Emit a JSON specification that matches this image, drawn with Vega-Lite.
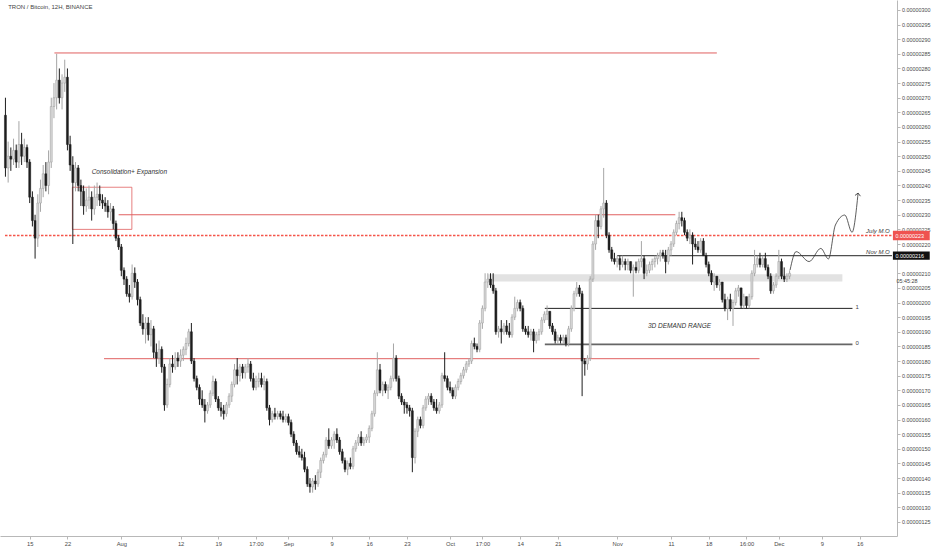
{
  "$schema": "https://vega.github.io/schema/vega-lite/v6.json",
  "width": 897,
  "height": 536,
  "autosize": {"type": "none"},
  "padding": {"left": 0, "top": 0, "right": 35, "bottom": 14},
  "background": "#ffffff",
  "config": {
    "view": {"stroke": null},
    "axis": {
      "grid": false,
      "domainColor": "#b8b8b8",
      "tickColor": "#b8b8b8",
      "tickSize": 3,
      "labelColor": "#4a4a4a",
      "labelFont": "Liberation Sans",
      "labelFontSize": 5.4,
      "labelPadding": 1.5,
      "labelOverlap": false,
      "labelBound": false
    },
    "text": {"font": "Liberation Sans", "fontSize": 6.5, "color": "#333333"}
  },
  "datasets": {
    "candles": [
      {"t": "2019-07-10T12:00", "o": 264, "h": 270, "l": 243, "c": 246},
      {"t": "2019-07-11T00:00", "o": 246, "h": 255, "l": 241, "c": 250},
      {"t": "2019-07-11T12:00", "o": 250, "h": 253, "l": 245, "c": 249},
      {"t": "2019-07-12T00:00", "o": 249, "h": 256, "l": 247, "c": 252},
      {"t": "2019-07-12T12:00", "o": 252, "h": 254, "l": 246, "c": 248},
      {"t": "2019-07-13T00:00", "o": 248, "h": 262, "l": 246, "c": 254},
      {"t": "2019-07-13T12:00", "o": 254, "h": 258, "l": 247, "c": 250},
      {"t": "2019-07-14T00:00", "o": 250, "h": 256, "l": 248, "c": 253},
      {"t": "2019-07-14T12:00", "o": 253, "h": 254, "l": 246, "c": 248},
      {"t": "2019-07-15T00:00", "o": 248, "h": 249, "l": 234, "c": 236},
      {"t": "2019-07-15T12:00", "o": 236, "h": 238, "l": 226, "c": 228},
      {"t": "2019-07-16T00:00", "o": 228, "h": 230, "l": 215, "c": 222},
      {"t": "2019-07-16T12:00", "o": 222, "h": 237, "l": 219, "c": 234},
      {"t": "2019-07-17T00:00", "o": 234, "h": 242, "l": 231, "c": 239},
      {"t": "2019-07-17T12:00", "o": 239, "h": 247, "l": 236, "c": 244},
      {"t": "2019-07-18T00:00", "o": 244, "h": 248, "l": 238, "c": 240},
      {"t": "2019-07-18T12:00", "o": 240, "h": 252, "l": 237, "c": 248},
      {"t": "2019-07-19T00:00", "o": 248, "h": 270, "l": 246, "c": 267},
      {"t": "2019-07-19T12:00", "o": 267, "h": 275, "l": 263, "c": 270},
      {"t": "2019-07-20T00:00", "o": 270, "h": 285, "l": 266, "c": 276},
      {"t": "2019-07-20T12:00", "o": 276, "h": 280, "l": 268, "c": 270},
      {"t": "2019-07-21T00:00", "o": 270, "h": 278, "l": 266, "c": 275},
      {"t": "2019-07-21T12:00", "o": 275, "h": 283, "l": 272, "c": 277},
      {"t": "2019-07-22T00:00", "o": 277, "h": 280, "l": 252, "c": 254},
      {"t": "2019-07-22T12:00", "o": 254, "h": 257, "l": 245, "c": 247},
      {"t": "2019-07-23T00:00", "o": 247, "h": 250, "l": 220, "c": 241},
      {"t": "2019-07-23T12:00", "o": 241, "h": 248, "l": 238, "c": 246},
      {"t": "2019-07-24T00:00", "o": 246, "h": 247, "l": 238, "c": 240},
      {"t": "2019-07-24T12:00", "o": 240, "h": 242, "l": 233, "c": 238},
      {"t": "2019-07-25T00:00", "o": 238, "h": 240, "l": 230, "c": 233},
      {"t": "2019-07-25T12:00", "o": 233, "h": 239, "l": 231, "c": 235},
      {"t": "2019-07-26T00:00", "o": 235, "h": 240, "l": 232, "c": 236},
      {"t": "2019-07-26T12:00", "o": 236, "h": 238, "l": 228, "c": 232},
      {"t": "2019-07-27T00:00", "o": 232, "h": 240, "l": 230, "c": 236},
      {"t": "2019-07-27T12:00", "o": 236, "h": 241, "l": 233, "c": 237},
      {"t": "2019-07-28T00:00", "o": 237, "h": 240, "l": 233, "c": 235},
      {"t": "2019-07-28T12:00", "o": 235, "h": 237, "l": 232, "c": 234},
      {"t": "2019-07-29T00:00", "o": 234, "h": 236, "l": 231, "c": 233},
      {"t": "2019-07-29T12:00", "o": 233, "h": 235, "l": 229, "c": 231},
      {"t": "2019-07-30T00:00", "o": 231, "h": 234, "l": 228, "c": 232},
      {"t": "2019-07-30T12:00", "o": 232, "h": 233, "l": 225, "c": 227},
      {"t": "2019-07-31T00:00", "o": 227, "h": 228, "l": 221, "c": 222},
      {"t": "2019-07-31T12:00", "o": 222, "h": 223, "l": 218, "c": 219},
      {"t": "2019-08-01T00:00", "o": 219, "h": 220, "l": 209, "c": 211},
      {"t": "2019-08-01T12:00", "o": 211, "h": 212, "l": 206, "c": 208},
      {"t": "2019-08-02T00:00", "o": 208, "h": 209, "l": 202, "c": 203},
      {"t": "2019-08-02T12:00", "o": 203, "h": 206, "l": 200, "c": 202},
      {"t": "2019-08-03T00:00", "o": 202, "h": 213, "l": 201, "c": 210},
      {"t": "2019-08-03T12:00", "o": 210, "h": 212, "l": 205, "c": 207},
      {"t": "2019-08-04T00:00", "o": 207, "h": 208, "l": 199, "c": 201},
      {"t": "2019-08-04T12:00", "o": 201, "h": 202, "l": 192, "c": 193},
      {"t": "2019-08-05T00:00", "o": 193, "h": 196, "l": 189, "c": 191},
      {"t": "2019-08-05T12:00", "o": 191, "h": 195, "l": 186, "c": 193},
      {"t": "2019-08-06T00:00", "o": 193, "h": 195, "l": 187, "c": 189},
      {"t": "2019-08-06T12:00", "o": 189, "h": 194, "l": 185, "c": 191},
      {"t": "2019-08-07T00:00", "o": 191, "h": 192, "l": 181, "c": 183},
      {"t": "2019-08-07T12:00", "o": 183, "h": 186, "l": 178, "c": 181},
      {"t": "2019-08-08T00:00", "o": 181, "h": 187, "l": 179, "c": 184},
      {"t": "2019-08-08T12:00", "o": 184, "h": 185, "l": 176, "c": 178},
      {"t": "2019-08-09T00:00", "o": 178, "h": 179, "l": 163, "c": 165},
      {"t": "2019-08-09T12:00", "o": 165, "h": 174, "l": 164, "c": 172},
      {"t": "2019-08-10T00:00", "o": 172, "h": 181, "l": 171, "c": 179},
      {"t": "2019-08-10T12:00", "o": 179, "h": 182, "l": 176, "c": 178},
      {"t": "2019-08-11T00:00", "o": 178, "h": 183, "l": 177, "c": 181},
      {"t": "2019-08-11T12:00", "o": 181, "h": 183, "l": 178, "c": 180},
      {"t": "2019-08-12T00:00", "o": 180, "h": 184, "l": 178, "c": 182},
      {"t": "2019-08-12T12:00", "o": 182, "h": 185, "l": 180, "c": 184},
      {"t": "2019-08-13T00:00", "o": 184, "h": 188, "l": 182, "c": 186},
      {"t": "2019-08-13T12:00", "o": 186, "h": 191, "l": 185, "c": 190},
      {"t": "2019-08-14T00:00", "o": 190, "h": 193, "l": 179, "c": 180},
      {"t": "2019-08-14T12:00", "o": 180, "h": 181, "l": 173, "c": 174},
      {"t": "2019-08-15T00:00", "o": 174, "h": 175, "l": 170, "c": 171},
      {"t": "2019-08-15T12:00", "o": 171, "h": 172, "l": 165, "c": 167},
      {"t": "2019-08-16T00:00", "o": 167, "h": 170, "l": 164, "c": 165},
      {"t": "2019-08-16T12:00", "o": 165, "h": 167, "l": 159, "c": 163},
      {"t": "2019-08-17T00:00", "o": 163, "h": 166, "l": 162, "c": 165},
      {"t": "2019-08-17T12:00", "o": 165, "h": 170, "l": 164, "c": 169},
      {"t": "2019-08-18T00:00", "o": 169, "h": 175, "l": 168, "c": 173},
      {"t": "2019-08-18T12:00", "o": 173, "h": 174, "l": 166, "c": 167},
      {"t": "2019-08-19T00:00", "o": 167, "h": 168, "l": 163, "c": 164},
      {"t": "2019-08-19T12:00", "o": 164, "h": 166, "l": 161, "c": 163},
      {"t": "2019-08-20T00:00", "o": 163, "h": 165, "l": 160, "c": 162},
      {"t": "2019-08-20T12:00", "o": 162, "h": 166, "l": 161, "c": 165},
      {"t": "2019-08-21T00:00", "o": 165, "h": 169, "l": 164, "c": 168},
      {"t": "2019-08-21T12:00", "o": 168, "h": 173, "l": 166, "c": 172},
      {"t": "2019-08-22T00:00", "o": 172, "h": 179, "l": 171, "c": 177},
      {"t": "2019-08-22T12:00", "o": 177, "h": 181, "l": 172, "c": 175},
      {"t": "2019-08-23T00:00", "o": 175, "h": 179, "l": 173, "c": 178},
      {"t": "2019-08-23T12:00", "o": 178, "h": 179, "l": 174, "c": 176},
      {"t": "2019-08-24T00:00", "o": 176, "h": 179, "l": 174, "c": 178},
      {"t": "2019-08-24T12:00", "o": 178, "h": 181, "l": 176, "c": 179},
      {"t": "2019-08-25T00:00", "o": 179, "h": 180, "l": 173, "c": 174},
      {"t": "2019-08-25T12:00", "o": 174, "h": 176, "l": 170, "c": 171},
      {"t": "2019-08-26T00:00", "o": 171, "h": 175, "l": 170, "c": 173},
      {"t": "2019-08-26T12:00", "o": 173, "h": 176, "l": 171, "c": 174},
      {"t": "2019-08-27T00:00", "o": 174, "h": 176, "l": 171, "c": 172},
      {"t": "2019-08-27T12:00", "o": 172, "h": 175, "l": 170, "c": 173},
      {"t": "2019-08-28T00:00", "o": 173, "h": 174, "l": 163, "c": 164},
      {"t": "2019-08-28T12:00", "o": 164, "h": 165, "l": 158, "c": 160},
      {"t": "2019-08-29T00:00", "o": 160, "h": 163, "l": 159, "c": 162},
      {"t": "2019-08-29T12:00", "o": 162, "h": 164, "l": 160, "c": 161},
      {"t": "2019-08-30T00:00", "o": 161, "h": 163, "l": 160, "c": 162},
      {"t": "2019-08-30T12:00", "o": 162, "h": 163, "l": 160, "c": 161},
      {"t": "2019-08-31T00:00", "o": 161, "h": 163, "l": 159, "c": 160},
      {"t": "2019-08-31T12:00", "o": 160, "h": 162, "l": 159, "c": 161},
      {"t": "2019-09-01T00:00", "o": 161, "h": 162, "l": 158, "c": 159},
      {"t": "2019-09-01T12:00", "o": 159, "h": 160, "l": 154, "c": 155},
      {"t": "2019-09-02T00:00", "o": 155, "h": 156, "l": 151, "c": 152},
      {"t": "2019-09-02T12:00", "o": 152, "h": 153, "l": 148, "c": 149},
      {"t": "2019-09-03T00:00", "o": 149, "h": 151, "l": 147, "c": 148},
      {"t": "2019-09-03T12:00", "o": 148, "h": 150, "l": 146, "c": 147},
      {"t": "2019-09-04T00:00", "o": 147, "h": 149, "l": 142, "c": 143},
      {"t": "2019-09-04T12:00", "o": 143, "h": 144, "l": 137, "c": 138},
      {"t": "2019-09-05T00:00", "o": 138, "h": 140, "l": 135, "c": 137},
      {"t": "2019-09-05T12:00", "o": 137, "h": 140, "l": 135, "c": 139},
      {"t": "2019-09-06T00:00", "o": 139, "h": 141, "l": 136, "c": 138},
      {"t": "2019-09-06T12:00", "o": 138, "h": 143, "l": 137, "c": 142},
      {"t": "2019-09-07T00:00", "o": 142, "h": 147, "l": 140, "c": 146},
      {"t": "2019-09-07T12:00", "o": 146, "h": 149, "l": 145, "c": 148},
      {"t": "2019-09-08T00:00", "o": 148, "h": 154, "l": 147, "c": 153},
      {"t": "2019-09-08T12:00", "o": 153, "h": 157, "l": 150, "c": 151},
      {"t": "2019-09-09T00:00", "o": 151, "h": 154, "l": 150, "c": 153},
      {"t": "2019-09-09T12:00", "o": 153, "h": 156, "l": 150, "c": 155},
      {"t": "2019-09-10T00:00", "o": 155, "h": 157, "l": 152, "c": 153},
      {"t": "2019-09-10T12:00", "o": 153, "h": 154, "l": 148, "c": 149},
      {"t": "2019-09-11T00:00", "o": 149, "h": 150, "l": 145, "c": 146},
      {"t": "2019-09-11T12:00", "o": 146, "h": 147, "l": 142, "c": 143},
      {"t": "2019-09-12T00:00", "o": 143, "h": 146, "l": 141, "c": 145},
      {"t": "2019-09-12T12:00", "o": 145, "h": 147, "l": 143, "c": 144},
      {"t": "2019-09-13T00:00", "o": 144, "h": 151, "l": 143, "c": 150},
      {"t": "2019-09-13T12:00", "o": 150, "h": 153, "l": 149, "c": 152},
      {"t": "2019-09-14T00:00", "o": 152, "h": 155, "l": 151, "c": 154},
      {"t": "2019-09-14T12:00", "o": 154, "h": 156, "l": 151, "c": 152},
      {"t": "2019-09-15T00:00", "o": 152, "h": 154, "l": 151, "c": 153},
      {"t": "2019-09-15T12:00", "o": 153, "h": 155, "l": 152, "c": 154},
      {"t": "2019-09-16T00:00", "o": 154, "h": 158, "l": 152, "c": 157},
      {"t": "2019-09-16T12:00", "o": 157, "h": 163, "l": 156, "c": 162},
      {"t": "2019-09-17T00:00", "o": 162, "h": 170, "l": 161, "c": 169},
      {"t": "2019-09-17T12:00", "o": 169, "h": 183, "l": 168, "c": 177},
      {"t": "2019-09-18T00:00", "o": 177, "h": 179, "l": 169, "c": 170},
      {"t": "2019-09-18T12:00", "o": 170, "h": 173, "l": 168, "c": 172},
      {"t": "2019-09-19T00:00", "o": 172, "h": 173, "l": 169, "c": 170},
      {"t": "2019-09-19T12:00", "o": 170, "h": 172, "l": 167, "c": 171},
      {"t": "2019-09-20T00:00", "o": 171, "h": 175, "l": 170, "c": 174},
      {"t": "2019-09-20T12:00", "o": 174, "h": 186, "l": 173, "c": 181},
      {"t": "2019-09-21T00:00", "o": 181, "h": 182, "l": 173, "c": 174},
      {"t": "2019-09-21T12:00", "o": 174, "h": 175, "l": 167, "c": 168},
      {"t": "2019-09-22T00:00", "o": 168, "h": 169, "l": 165, "c": 166},
      {"t": "2019-09-22T12:00", "o": 166, "h": 167, "l": 162, "c": 165},
      {"t": "2019-09-23T00:00", "o": 165, "h": 166, "l": 162, "c": 164},
      {"t": "2019-09-23T12:00", "o": 164, "h": 165, "l": 161, "c": 163},
      {"t": "2019-09-24T00:00", "o": 163, "h": 164, "l": 142, "c": 147},
      {"t": "2019-09-24T12:00", "o": 147, "h": 157, "l": 145, "c": 156},
      {"t": "2019-09-25T00:00", "o": 156, "h": 161, "l": 154, "c": 160},
      {"t": "2019-09-25T12:00", "o": 160, "h": 161, "l": 157, "c": 158},
      {"t": "2019-09-26T00:00", "o": 158, "h": 165, "l": 157, "c": 164},
      {"t": "2019-09-26T12:00", "o": 164, "h": 168, "l": 163, "c": 167},
      {"t": "2019-09-27T00:00", "o": 167, "h": 169, "l": 165, "c": 168},
      {"t": "2019-09-27T12:00", "o": 168, "h": 169, "l": 165, "c": 166},
      {"t": "2019-09-28T00:00", "o": 166, "h": 167, "l": 163, "c": 164},
      {"t": "2019-09-28T12:00", "o": 164, "h": 167, "l": 162, "c": 163},
      {"t": "2019-09-29T00:00", "o": 163, "h": 166, "l": 162, "c": 165},
      {"t": "2019-09-29T12:00", "o": 165, "h": 176, "l": 164, "c": 175},
      {"t": "2019-09-30T00:00", "o": 175, "h": 183, "l": 173, "c": 174},
      {"t": "2019-09-30T12:00", "o": 174, "h": 175, "l": 170, "c": 171},
      {"t": "2019-10-01T00:00", "o": 171, "h": 173, "l": 169, "c": 170},
      {"t": "2019-10-01T12:00", "o": 170, "h": 171, "l": 167, "c": 168},
      {"t": "2019-10-02T00:00", "o": 168, "h": 172, "l": 167, "c": 171},
      {"t": "2019-10-02T12:00", "o": 171, "h": 174, "l": 170, "c": 173},
      {"t": "2019-10-03T00:00", "o": 173, "h": 176, "l": 172, "c": 175},
      {"t": "2019-10-03T12:00", "o": 175, "h": 178, "l": 174, "c": 177},
      {"t": "2019-10-04T00:00", "o": 177, "h": 180, "l": 176, "c": 179},
      {"t": "2019-10-04T12:00", "o": 179, "h": 181, "l": 178, "c": 180},
      {"t": "2019-10-05T00:00", "o": 180, "h": 187, "l": 179, "c": 186},
      {"t": "2019-10-05T12:00", "o": 186, "h": 188, "l": 184, "c": 185},
      {"t": "2019-10-06T00:00", "o": 185, "h": 186, "l": 183, "c": 184},
      {"t": "2019-10-06T12:00", "o": 184, "h": 194, "l": 183, "c": 193},
      {"t": "2019-10-07T00:00", "o": 193, "h": 199, "l": 191, "c": 198},
      {"t": "2019-10-07T12:00", "o": 198, "h": 210, "l": 197, "c": 207},
      {"t": "2019-10-08T00:00", "o": 207, "h": 210, "l": 205, "c": 208},
      {"t": "2019-10-08T12:00", "o": 208, "h": 210, "l": 205, "c": 206},
      {"t": "2019-10-09T00:00", "o": 206, "h": 210, "l": 203, "c": 204},
      {"t": "2019-10-09T12:00", "o": 204, "h": 205, "l": 189, "c": 190},
      {"t": "2019-10-10T00:00", "o": 190, "h": 192, "l": 188, "c": 191},
      {"t": "2019-10-10T12:00", "o": 191, "h": 194, "l": 186, "c": 190},
      {"t": "2019-10-11T00:00", "o": 190, "h": 193, "l": 189, "c": 192},
      {"t": "2019-10-11T12:00", "o": 192, "h": 194, "l": 189, "c": 190},
      {"t": "2019-10-12T00:00", "o": 190, "h": 193, "l": 188, "c": 189},
      {"t": "2019-10-12T12:00", "o": 189, "h": 196, "l": 188, "c": 195},
      {"t": "2019-10-13T00:00", "o": 195, "h": 202, "l": 194, "c": 198},
      {"t": "2019-10-13T12:00", "o": 198, "h": 201, "l": 197, "c": 200},
      {"t": "2019-10-14T00:00", "o": 200, "h": 201, "l": 197, "c": 198},
      {"t": "2019-10-14T12:00", "o": 198, "h": 199, "l": 190, "c": 191},
      {"t": "2019-10-15T00:00", "o": 191, "h": 192, "l": 189, "c": 190},
      {"t": "2019-10-15T12:00", "o": 190, "h": 192, "l": 188, "c": 189},
      {"t": "2019-10-16T00:00", "o": 189, "h": 191, "l": 187, "c": 190},
      {"t": "2019-10-16T12:00", "o": 190, "h": 191, "l": 183, "c": 187},
      {"t": "2019-10-17T00:00", "o": 187, "h": 190, "l": 186, "c": 189},
      {"t": "2019-10-17T12:00", "o": 189, "h": 191, "l": 187, "c": 190},
      {"t": "2019-10-18T00:00", "o": 190, "h": 195, "l": 189, "c": 194},
      {"t": "2019-10-18T12:00", "o": 194, "h": 197, "l": 193, "c": 196},
      {"t": "2019-10-19T00:00", "o": 196, "h": 199, "l": 194, "c": 197},
      {"t": "2019-10-19T12:00", "o": 197, "h": 197, "l": 191, "c": 192},
      {"t": "2019-10-20T00:00", "o": 192, "h": 193, "l": 189, "c": 190},
      {"t": "2019-10-20T12:00", "o": 190, "h": 191, "l": 186, "c": 187},
      {"t": "2019-10-21T00:00", "o": 187, "h": 189, "l": 186, "c": 188},
      {"t": "2019-10-21T12:00", "o": 188, "h": 189, "l": 186, "c": 187},
      {"t": "2019-10-22T00:00", "o": 187, "h": 189, "l": 186, "c": 188},
      {"t": "2019-10-22T12:00", "o": 188, "h": 189, "l": 185, "c": 186},
      {"t": "2019-10-23T00:00", "o": 186, "h": 192, "l": 185, "c": 191},
      {"t": "2019-10-23T12:00", "o": 191, "h": 199, "l": 190, "c": 198},
      {"t": "2019-10-24T00:00", "o": 198, "h": 204, "l": 197, "c": 203},
      {"t": "2019-10-24T12:00", "o": 203, "h": 207, "l": 202, "c": 205},
      {"t": "2019-10-25T00:00", "o": 205, "h": 206, "l": 202, "c": 203},
      {"t": "2019-10-25T12:00", "o": 203, "h": 204, "l": 168, "c": 180},
      {"t": "2019-10-26T00:00", "o": 180, "h": 181, "l": 175, "c": 179},
      {"t": "2019-10-26T12:00", "o": 179, "h": 182, "l": 177, "c": 181},
      {"t": "2019-10-27T00:00", "o": 181, "h": 209, "l": 180, "c": 208},
      {"t": "2019-10-27T12:00", "o": 208, "h": 221, "l": 207, "c": 220},
      {"t": "2019-10-28T00:00", "o": 220, "h": 230, "l": 218, "c": 228},
      {"t": "2019-10-28T12:00", "o": 228, "h": 230, "l": 222, "c": 226},
      {"t": "2019-10-29T00:00", "o": 226, "h": 233, "l": 225, "c": 232},
      {"t": "2019-10-29T12:00", "o": 232, "h": 246, "l": 229, "c": 234},
      {"t": "2019-10-30T00:00", "o": 234, "h": 235, "l": 222, "c": 223},
      {"t": "2019-10-30T12:00", "o": 223, "h": 224, "l": 217, "c": 218},
      {"t": "2019-10-31T00:00", "o": 218, "h": 219, "l": 214, "c": 215},
      {"t": "2019-10-31T12:00", "o": 215, "h": 217, "l": 213, "c": 214},
      {"t": "2019-11-01T00:00", "o": 214, "h": 216, "l": 212, "c": 215},
      {"t": "2019-11-01T12:00", "o": 215, "h": 216, "l": 211, "c": 213},
      {"t": "2019-11-02T00:00", "o": 213, "h": 216, "l": 212, "c": 214},
      {"t": "2019-11-02T12:00", "o": 214, "h": 215, "l": 211, "c": 213},
      {"t": "2019-11-03T00:00", "o": 213, "h": 215, "l": 211, "c": 214},
      {"t": "2019-11-03T12:00", "o": 214, "h": 214, "l": 210, "c": 211},
      {"t": "2019-11-04T00:00", "o": 211, "h": 213, "l": 202, "c": 212},
      {"t": "2019-11-04T12:00", "o": 212, "h": 214, "l": 210, "c": 211},
      {"t": "2019-11-05T00:00", "o": 211, "h": 215, "l": 210, "c": 214},
      {"t": "2019-11-05T12:00", "o": 214, "h": 221, "l": 212, "c": 215},
      {"t": "2019-11-06T00:00", "o": 215, "h": 216, "l": 208, "c": 210},
      {"t": "2019-11-06T12:00", "o": 210, "h": 213, "l": 209, "c": 211},
      {"t": "2019-11-07T00:00", "o": 211, "h": 214, "l": 210, "c": 213},
      {"t": "2019-11-07T12:00", "o": 213, "h": 215, "l": 211, "c": 214},
      {"t": "2019-11-08T00:00", "o": 214, "h": 216, "l": 212, "c": 215},
      {"t": "2019-11-08T12:00", "o": 215, "h": 217, "l": 213, "c": 216},
      {"t": "2019-11-09T00:00", "o": 216, "h": 218, "l": 214, "c": 217},
      {"t": "2019-11-09T12:00", "o": 217, "h": 218, "l": 215, "c": 216},
      {"t": "2019-11-10T00:00", "o": 216, "h": 218, "l": 210, "c": 214},
      {"t": "2019-11-10T12:00", "o": 214, "h": 219, "l": 213, "c": 218},
      {"t": "2019-11-11T00:00", "o": 218, "h": 221, "l": 216, "c": 220},
      {"t": "2019-11-11T12:00", "o": 220, "h": 225, "l": 219, "c": 224},
      {"t": "2019-11-12T00:00", "o": 224, "h": 228, "l": 223, "c": 227},
      {"t": "2019-11-12T12:00", "o": 227, "h": 231, "l": 225, "c": 229},
      {"t": "2019-11-13T00:00", "o": 229, "h": 231, "l": 226, "c": 228},
      {"t": "2019-11-13T12:00", "o": 228, "h": 229, "l": 223, "c": 224},
      {"t": "2019-11-14T00:00", "o": 224, "h": 225, "l": 221, "c": 222},
      {"t": "2019-11-14T12:00", "o": 222, "h": 225, "l": 220, "c": 223},
      {"t": "2019-11-15T00:00", "o": 223, "h": 224, "l": 213, "c": 220},
      {"t": "2019-11-15T12:00", "o": 220, "h": 222, "l": 218, "c": 219},
      {"t": "2019-11-16T00:00", "o": 219, "h": 221, "l": 217, "c": 218},
      {"t": "2019-11-16T12:00", "o": 218, "h": 222, "l": 217, "c": 221},
      {"t": "2019-11-17T00:00", "o": 221, "h": 222, "l": 216, "c": 216},
      {"t": "2019-11-17T12:00", "o": 216, "h": 217, "l": 212, "c": 213},
      {"t": "2019-11-18T00:00", "o": 213, "h": 214, "l": 209, "c": 210},
      {"t": "2019-11-18T12:00", "o": 210, "h": 211, "l": 206, "c": 207},
      {"t": "2019-11-19T00:00", "o": 207, "h": 210, "l": 204, "c": 209},
      {"t": "2019-11-19T12:00", "o": 209, "h": 209, "l": 205, "c": 206},
      {"t": "2019-11-20T00:00", "o": 206, "h": 208, "l": 204, "c": 207},
      {"t": "2019-11-20T12:00", "o": 207, "h": 207, "l": 200, "c": 201},
      {"t": "2019-11-21T00:00", "o": 201, "h": 203, "l": 197, "c": 198},
      {"t": "2019-11-21T12:00", "o": 198, "h": 202, "l": 194, "c": 201},
      {"t": "2019-11-22T00:00", "o": 201, "h": 203, "l": 197, "c": 198},
      {"t": "2019-11-22T12:00", "o": 198, "h": 201, "l": 192, "c": 200},
      {"t": "2019-11-23T00:00", "o": 200, "h": 205, "l": 199, "c": 204},
      {"t": "2019-11-23T12:00", "o": 204, "h": 206, "l": 202, "c": 205},
      {"t": "2019-11-24T00:00", "o": 205, "h": 205, "l": 198, "c": 199},
      {"t": "2019-11-24T12:00", "o": 199, "h": 203, "l": 198, "c": 202},
      {"t": "2019-11-25T00:00", "o": 202, "h": 202, "l": 198, "c": 199},
      {"t": "2019-11-25T12:00", "o": 199, "h": 203, "l": 198, "c": 202},
      {"t": "2019-11-26T00:00", "o": 202, "h": 211, "l": 201, "c": 210},
      {"t": "2019-11-26T12:00", "o": 210, "h": 218, "l": 209, "c": 213},
      {"t": "2019-11-27T00:00", "o": 213, "h": 216, "l": 212, "c": 215},
      {"t": "2019-11-27T12:00", "o": 215, "h": 217, "l": 212, "c": 213},
      {"t": "2019-11-28T00:00", "o": 213, "h": 216, "l": 212, "c": 215},
      {"t": "2019-11-28T12:00", "o": 215, "h": 217, "l": 211, "c": 212},
      {"t": "2019-11-29T00:00", "o": 212, "h": 213, "l": 208, "c": 209},
      {"t": "2019-11-29T12:00", "o": 209, "h": 210, "l": 203, "c": 204},
      {"t": "2019-11-30T00:00", "o": 204, "h": 207, "l": 203, "c": 206},
      {"t": "2019-11-30T12:00", "o": 206, "h": 210, "l": 205, "c": 209},
      {"t": "2019-12-01T00:00", "o": 209, "h": 218, "l": 208, "c": 214},
      {"t": "2019-12-01T12:00", "o": 214, "h": 215, "l": 208, "c": 209},
      {"t": "2019-12-02T00:00", "o": 209, "h": 212, "l": 207, "c": 208},
      {"t": "2019-12-02T12:00", "o": 208, "h": 210, "l": 207, "c": 209},
      {"t": "2019-12-03T00:00", "o": 209, "h": 211, "l": 208, "c": 210}
    ],
    "band": [{"t": "2019-10-08T00:00", "t2": "2019-12-12T19:00", "p": 207.2, "p2": 209.7}],
    "redLines": [
      {"t": "2019-07-19T14:00", "t2": "2019-11-19T12:00", "p": 285.3},
      {"t": "2019-07-31T12:00", "t2": "2019-11-11T19:00", "p": 230.0},
      {"t": "2019-07-28T19:00", "t2": "2019-11-27T10:00", "p": 180.8}
    ],
    "levels": [
      {"t": "2019-11-01T00:00", "t2": "2019-12-22T00:00", "p": 216.0},
      {"t": "2019-10-18T14:00", "t2": "2019-12-14T16:00", "p": 198.0}
    ],
    "zeroLevel": [{"t": "2019-10-18T14:00", "t2": "2019-12-14T16:00", "p": 185.7}],
    "julyOpen": [{"t": "2019-07-10T10:00", "t2": "2019-12-22T00:00", "p": 222.9}],
    "box": [{"t": "2019-07-22T22:00", "t2": "2019-08-02T23:00", "p": 225.0, "p2": 239.4}],
    "path": [
      {"t": "2019-12-03T02:00", "p": 211.1},
      {"t": "2019-12-04T05:00", "p": 217.4},
      {"t": "2019-12-06T15:00", "p": 214.0},
      {"t": "2019-12-08T19:00", "p": 218.5},
      {"t": "2019-12-10T05:00", "p": 214.9},
      {"t": "2019-12-11T12:00", "p": 226.5},
      {"t": "2019-12-13T06:00", "p": 229.9},
      {"t": "2019-12-14T14:00", "p": 224.0},
      {"t": "2019-12-15T17:00", "p": 237.4}
    ],
    "tip": [{"t": "2019-12-15T17:00", "p": 237.4}],
    "italicNotes": [
      {"t": "2019-07-26T12:00", "p": 244.7, "label": "Consolidation+ Expansion"},
      {"t": "2019-11-06T17:00", "p": 192.1, "label": "3D DEMAND RANGE"}
    ],
    "rightNotes": [
      {"t": "2019-12-21T14:00", "p": 224.3, "label": "July M.O"},
      {"t": "2019-12-21T14:00", "p": 217.4, "label": "Nov M.O"}
    ],
    "plainNotes": [
      {"t": "2019-07-11T00:00", "p": 301.0, "label": "TRON / Bitcoin, 12H, BINANCE"},
      {"t": "2019-12-15T05:00", "p": 198.6, "label": "1"},
      {"t": "2019-12-15T05:00", "p": 186.3, "label": "0"}
    ],
    "clock": [{"t": "2019-12-22T20:00", "p": 207.4, "label": "05:45:28"}],
    "tags": [
      {"t": "2019-12-22T04:00", "t2": "2019-12-29T00:00", "p": 221.3, "p2": 224.5, "kind": "July M.O", "label": "0.00000223", "mid": 222.9},
      {"t": "2019-12-22T04:00", "t2": "2019-12-29T00:00", "p": 214.6, "p2": 217.4, "kind": "Nov M.O", "label": "0.00000216", "mid": 216.0}
    ]
  },
  "layer": [
    {
      "data": {"name": "band"},
      "mark": {"type": "rect", "fill": "#e2e2e2"},
      "encoding": {
        "x": {
          "field": "t", "type": "temporal", "title": null,
          "scale": {"domain": [{"year": 2019, "month": 7, "date": 10, "hours": 10}, {"year": 2019, "month": 12, "date": 22}]},
          "axis": {
            "values": [
              {"year": 2019, "month": 7, "date": 15}, {"year": 2019, "month": 7, "date": 22},
              {"year": 2019, "month": 8, "date": 1}, {"year": 2019, "month": 8, "date": 12},
              {"year": 2019, "month": 8, "date": 19}, {"year": 2019, "month": 8, "date": 26},
              {"year": 2019, "month": 9, "date": 1}, {"year": 2019, "month": 9, "date": 9},
              {"year": 2019, "month": 9, "date": 16}, {"year": 2019, "month": 9, "date": 23},
              {"year": 2019, "month": 10, "date": 1}, {"year": 2019, "month": 10, "date": 7},
              {"year": 2019, "month": 10, "date": 14}, {"year": 2019, "month": 10, "date": 21},
              {"year": 2019, "month": 11, "date": 1}, {"year": 2019, "month": 11, "date": 11},
              {"year": 2019, "month": 11, "date": 18}, {"year": 2019, "month": 11, "date": 25},
              {"year": 2019, "month": 12, "date": 1}, {"year": 2019, "month": 12, "date": 9},
              {"year": 2019, "month": 12, "date": 16}
            ],
            "labelExpr": "date(datum.value) == 1 ? timeFormat(datum.value, '%b') : timeFormat(datum.value, '%m-%d') == '11-25' ? '16:00' : (timeFormat(datum.value, '%m-%d') == '08-26' || timeFormat(datum.value, '%m-%d') == '10-07') ? '17:00' : timeFormat(datum.value, '%-d')",
            "labelFlush": false,
            "labelFontSize": 5.8,
            "tickCount": 40
          }
        },
        "x2": {"field": "t2"},
        "y": {
          "field": "p", "type": "quantitative", "title": null,
          "scale": {"domain": [120.2, 303.4], "nice": false, "zero": false},
          "axis": {
            "orient": "right",
            "values": [125, 130, 135, 140, 145, 150, 155, 160, 165, 170, 175, 180, 185, 190, 195, 200, 205, 210, 220, 225, 230, 235, 240, 245, 250, 255, 260, 265, 270, 275, 280, 285, 290, 295, 300],
            "tickCount": 40,
            "labelExpr": "'0.00000' + datum.value"
          }
        },
        "y2": {"field": "p2"}
      }
    },
    {
      "data": {"name": "redLines"},
      "mark": {"type": "rule", "stroke": "#e06060", "strokeWidth": 1},
      "encoding": {
        "x": {"field": "t", "type": "temporal", "title": null},
        "x2": {"field": "t2"},
        "y": {"field": "p", "type": "quantitative", "title": null}
      }
    },
    {
      "data": {"name": "levels"},
      "mark": {"type": "rule", "stroke": "#222222", "strokeWidth": 1},
      "encoding": {
        "x": {"field": "t", "type": "temporal", "title": null},
        "x2": {"field": "t2"},
        "y": {"field": "p", "type": "quantitative", "title": null}
      }
    },
    {
      "data": {"name": "zeroLevel"},
      "mark": {"type": "rule", "stroke": "#666666", "strokeWidth": 1.8},
      "encoding": {
        "x": {"field": "t", "type": "temporal", "title": null},
        "x2": {"field": "t2"},
        "y": {"field": "p", "type": "quantitative", "title": null}
      }
    },
    {
      "data": {"name": "julyOpen"},
      "mark": {"type": "rule", "color": "#f44336", "stroke": "#f44336", "strokeWidth": 1.4, "strokeDash": [2.5, 1.5], "opacity": 0.9},
      "encoding": {
        "x": {"field": "t", "type": "temporal", "title": null},
        "x2": {"field": "t2"},
        "y": {"field": "p", "type": "quantitative", "title": null}
      }
    },
    {
      "data": {"name": "box"},
      "mark": {"type": "rect", "fill": null, "fillOpacity": 0, "stroke": "#e06060", "strokeWidth": 0.8},
      "encoding": {
        "x": {"field": "t", "type": "temporal", "title": null},
        "x2": {"field": "t2"},
        "y": {"field": "p", "type": "quantitative", "title": null},
        "y2": {"field": "p2"}
      }
    },
    {
      "data": {"name": "candles"},
      "mark": {"type": "rule", "strokeWidth": 1},
      "encoding": {
        "x": {"field": "t", "type": "temporal", "title": null},
        "y": {"field": "l", "type": "quantitative", "title": null},
        "y2": {"field": "h"},
        "color": {"condition": {"test": "datum.c >= datum.o", "value": "#a6a6a6"}, "value": "#1e1e1e"}
      }
    },
    {
      "data": {"name": "candles"},
      "mark": {"type": "bar", "width": 2, "strokeWidth": 0.5},
      "encoding": {
        "x": {"field": "t", "type": "temporal", "title": null},
        "y": {"field": "o", "type": "quantitative", "title": null},
        "y2": {"field": "c"},
        "fill": {"condition": {"test": "datum.c >= datum.o", "value": "#d8d8d8"}, "value": "#1e1e1e"},
        "stroke": {"condition": {"test": "datum.c >= datum.o", "value": "#9c9c9c"}, "value": "#1e1e1e"}
      }
    },
    {
      "data": {"name": "path"},
      "mark": {"type": "line", "interpolate": "monotone", "stroke": "#333333", "strokeWidth": 0.8},
      "encoding": {
        "x": {"field": "t", "type": "temporal", "title": null},
        "y": {"field": "p", "type": "quantitative", "title": null}
      }
    },
    {
      "data": {"name": "tip"},
      "mark": {"type": "point", "shape": "M-1,1L0,0L1,1", "size": 30, "filled": false, "stroke": "#333333", "strokeWidth": 0.8, "angle": 8, "opacity": 1},
      "encoding": {
        "x": {"field": "t", "type": "temporal", "title": null},
        "y": {"field": "p", "type": "quantitative", "title": null}
      }
    },
    {
      "data": {"name": "italicNotes"},
      "mark": {"type": "text", "align": "left", "baseline": "middle", "fontStyle": "italic", "fontSize": 6.5, "color": "#333333"},
      "encoding": {
        "x": {"field": "t", "type": "temporal", "title": null},
        "y": {"field": "p", "type": "quantitative", "title": null},
        "text": {"field": "label"}
      }
    },
    {
      "data": {"name": "rightNotes"},
      "mark": {"type": "text", "align": "right", "baseline": "middle", "fontStyle": "italic", "fontSize": 6, "color": "#333333"},
      "encoding": {
        "x": {"field": "t", "type": "temporal", "title": null},
        "y": {"field": "p", "type": "quantitative", "title": null},
        "text": {"field": "label"}
      }
    },
    {
      "data": {"name": "plainNotes"},
      "mark": {"type": "text", "align": "left", "baseline": "middle", "fontSize": 6, "color": "#444444"},
      "encoding": {
        "x": {"field": "t", "type": "temporal", "title": null},
        "y": {"field": "p", "type": "quantitative", "title": null},
        "text": {"field": "label"}
      }
    },
    {
      "data": {"name": "clock"},
      "mark": {"type": "text", "align": "left", "baseline": "middle", "fontSize": 5.4, "color": "#444444"},
      "encoding": {
        "x": {"field": "t", "type": "temporal", "title": null},
        "y": {"field": "p", "type": "quantitative", "title": null},
        "text": {"field": "label"}
      }
    },
    {
      "data": {"name": "tags"},
      "mark": {"type": "rect"},
      "encoding": {
        "x": {"field": "t", "type": "temporal", "title": null},
        "x2": {"field": "t2"},
        "y": {"field": "p", "type": "quantitative", "title": null},
        "y2": {"field": "p2"},
        "color": {"field": "kind", "type": "nominal", "scale": {"domain": ["July M.O", "Nov M.O"], "range": ["#ef5350", "#111111"]}, "legend": null}
      }
    },
    {
      "data": {"name": "tags"},
      "mark": {"type": "text", "align": "left", "baseline": "middle", "fontSize": 5.4, "color": "#ffffff", "dx": 2.5},
      "encoding": {
        "x": {"field": "t", "type": "temporal", "title": null},
        "y": {"field": "mid", "type": "quantitative", "title": null},
        "text": {"field": "label"}
      }
    }
  ]
}
